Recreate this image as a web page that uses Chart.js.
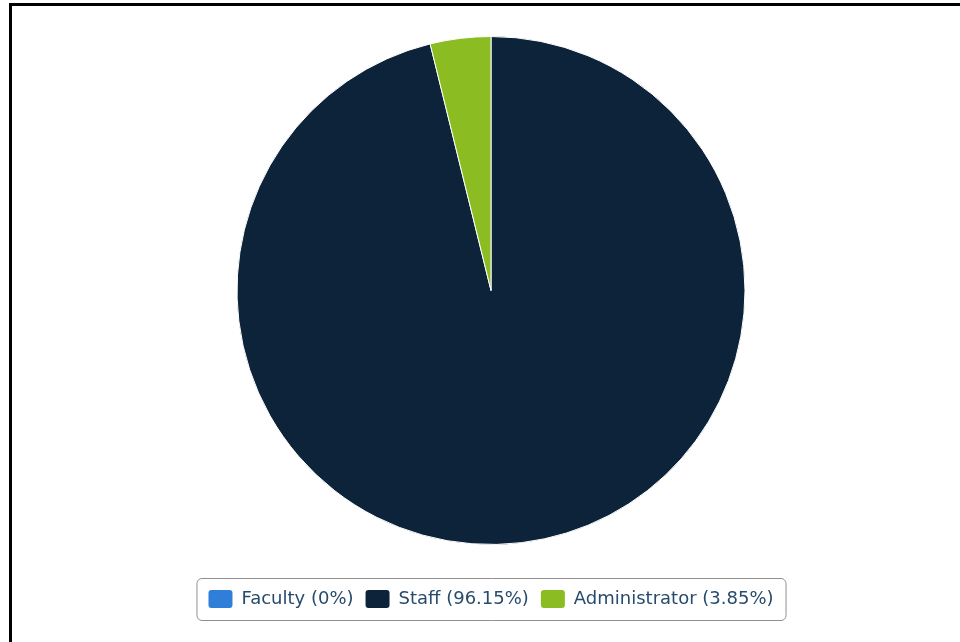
<!DOCTYPE html>
<html>
<head>
<meta charset="utf-8">
<title>Employee Type</title>
<script src="https://cdn.jsdelivr.net/npm/chart.js@4.4.1/dist/chart.umd.min.js"></script>
<style>
  html, body { margin: 0; padding: 0; background: #fff; }
  #frame {
    position: absolute; left: 9px; top: 3px; width: 1000px; height: 700px;
    border-top: 3px solid #000; border-left: 3px solid #000; box-sizing: border-box;
  }
  #wrap { position: absolute; left: 0; top: 0; width: 960px; height: 642px; }
</style>
</head>
<body>
<div id="frame"></div>
<div id="wrap"><canvas id="c" width="960" height="642"></canvas></div>
<script>
// Employee categories and their share (%)
const categories = ['Faculty', 'Staff', 'Administrator'];
const shares = [0, 96.15, 3.85];
const colors = ['#2f7ed8', '#0d233a', '#8bbc21'];

// Draws a rounded frame around the legend items
const legendFrame = {
  id: 'legendFrame',
  afterDraw(chart) {
    const lg = chart.legend;
    if (!lg || !lg.legendHitBoxes || !lg.legendHitBoxes.length) return;
    const boxes = lg.legendHitBoxes;
    let l = Infinity, r = -Infinity, t = Infinity, b = -Infinity;
    boxes.forEach(h => {
      l = Math.min(l, h.left); r = Math.max(r, h.left + h.width);
      t = Math.min(t, h.top); b = Math.max(b, h.top + h.height);
    });
    const pad = 12, x = l - pad + 0.5, y = t - pad + 0.5, w = r - l + pad * 2, hgt = b - t + pad * 2, rad = 5;
    const ctx = chart.ctx;
    ctx.save();
    ctx.strokeStyle = '#909090';
    ctx.lineWidth = 1;
    ctx.beginPath();
    ctx.roundRect(x, y, w, hgt, rad);
    ctx.stroke();
    ctx.restore();
  }
};

new Chart(document.getElementById('c'), {
  type: 'pie',
  data: {
    labels: categories,
    datasets: [{
      data: shares,
      backgroundColor: colors,
      borderColor: '#ffffff',
      borderWidth: 1
    }]
  },
  options: {
    responsive: false,
    animation: false,
    layout: { padding: { top: 36, bottom: 24, left: 22, right: 0 } },
    plugins: {
      tooltip: { enabled: false },
      legend: {
        position: 'bottom',
        title: { display: true, text: '', font: { size: 10 }, padding: { top: 21, bottom: 0 } },
        labels: {
          boxWidth: 24,
          boxHeight: 18,
          padding: 12,
          useBorderRadius: true,
          borderRadius: 3,
          color: '#274b6d',
          font: { family: 'DejaVu Sans', size: 18 },
          generateLabels(chart) {
            const ds = chart.data.datasets[0];
            return chart.data.labels.map((name, i) => ({
              text: `${name} (${ds.data[i]}%)`,
              fillStyle: ds.backgroundColor[i],
              strokeStyle: ds.backgroundColor[i],
              lineWidth: 0,
              fontColor: '#274b6d',
              hidden: false,
              index: i,
              borderRadius: 3
            }));
          }
        }
      }
    }
  },
  plugins: [legendFrame]
});
</script>
</body>
</html>
